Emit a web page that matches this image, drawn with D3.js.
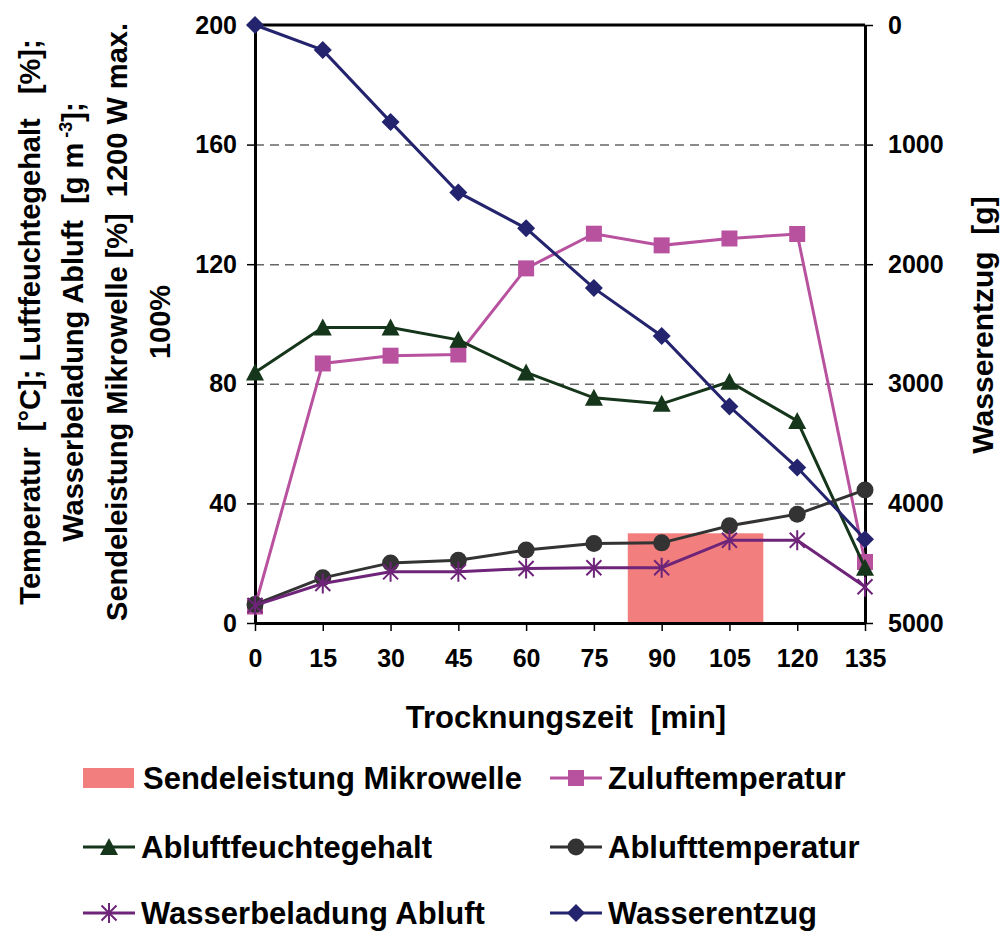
<!DOCTYPE html>
<html>
<head>
<meta charset="utf-8">
<script src="https://cdn.jsdelivr.net/npm/d3@7"></script>
<style>
  body { margin: 0; background: #fff; }
  svg text { font-family: "Liberation Sans", Arial, sans-serif; font-weight: bold; fill: #000; white-space: pre; }
</style>
</head>
<body>
<div id="chart"></div>
<script>
// values
var minutes = [0, 15, 30, 45, 60, 75, 90, 105, 120, 135];
var zuluft = [5.5, 86.8, 89.4, 89.8, 118.6, 130.2, 126.3, 128.6, 130.1, 20.4];
var abluftFeuchte = [83.8, 98.8, 98.8, 94.7, 83.8, 75.3, 73.3, 80.7, 67.6, 18.5];
var abluftTemp = [6.2, 15.1, 20.1, 21.0, 24.4, 26.6, 26.8, 32.5, 36.4, 44.5];
var wasserbeladung = [5.9, 13.2, 17.1, 17.1, 18.2, 18.5, 18.5, 27.7, 27.7, 12.1];
var wasserentzug = [0, 210, 810, 1400, 1700, 2200, 2600, 3190, 3700, 4300];
var mikrowelle = [{ start: 82.5, end: 112.5, value: 30 }];
var leftTicks = [0, 40, 80, 120, 160, 200];
var rightTicks = [0, 1000, 2000, 3000, 4000, 5000];
var gridTicks = [40, 80, 120, 160];

var margin = { top: 25, right: 135, bottom: 308, left: 255 },
    width = 1000 - margin.left - margin.right,
    height = 931 - margin.top - margin.bottom;

var svg = d3.select('#chart').append('svg')
    .attr('width', 1000)
    .attr('height', 931);
var g = svg.append('g')
    .attr('transform', 'translate(' + margin.left + ',' + margin.top + ')');

var x = d3.scaleLinear().domain([0, 135]).range([0, width]);
var yL = d3.scaleLinear().domain([0, 200]).range([height, 0]);
var yR = d3.scaleLinear().domain([0, 5000]).range([0, height]);

// marker paths, r = half size
function marker(type, r) {
    if (type == 'square') return 'M' + -r + ',' + -r + 'h' + 2 * r + 'v' + 2 * r + 'h' + -2 * r + 'Z';
    if (type == 'diamond') return 'M0,' + -r + 'L' + r + ',0L0,' + r + 'L' + -r + ',0Z';
    if (type == 'triangle') return 'M0,' + (-r - 1) + 'L' + (r + 1) + ',' + r + 'L' + (-r - 1) + ',' + r + 'Z';
    if (type == 'circle') return d3.symbol().type(d3.symbolCircle).size(Math.PI * r * r)();
    if (type == 'star') {
        var d = r * 0.75;
        return 'M0,' + -r + 'V' + r + 'M' + -d + ',' + -d + 'L' + d + ',' + d + 'M' + -d + ',' + d + 'L' + d + ',' + -d;
    }
}

var series = [
    { name: 'Zuluftemperatur', values: zuluft, axis: 'L', color: '#b8529f', mark: 'square', r: 8, lw: 3 },
    { name: 'Abluftfeuchtegehalt', values: abluftFeuchte, axis: 'L', color: '#15361a', mark: 'triangle', r: 8, lw: 3 },
    { name: 'Ablufttemperatur', values: abluftTemp, axis: 'L', color: '#333333', mark: 'circle', r: 8.5, lw: 3 },
    { name: 'Wasserbeladung Abluft', values: wasserbeladung, axis: 'L', color: '#6e2478', mark: 'star', r: 10, lw: 3 },
    { name: 'Wasserentzug', values: wasserentzug, axis: 'R', color: '#24246e', mark: 'diamond', r: 9, lw: 3 }
];

// dashed grid
g.append('g')
    .attr('class', 'grid')
    .call(d3.axisLeft(yL).tickValues(gridTicks).tickSize(-width).tickFormat(''))
    .call(function(s) { s.select('.domain').remove(); })
    .selectAll('line')
    .attr('stroke', '#666')
    .attr('stroke-width', 1.5)
    .attr('stroke-dasharray', '9,6');

// bar: microwave power
g.selectAll('.bar')
    .data(mikrowelle)
    .enter().append('rect')
    .attr('class', 'bar')
    .attr('x', function(d) { return x(d.start); })
    .attr('width', function(d) { return x(d.end) - x(d.start); })
    .attr('y', function(d) { return yL(d.value); })
    .attr('height', function(d) { return height - yL(d.value); })
    .attr('fill', '#f27f7d');

// plot frame (top line)
g.append('line')
    .attr('x1', 0).attr('x2', width)
    .attr('y1', 0).attr('y2', 0)
    .attr('stroke', '#000').attr('stroke-width', 3);

// axes
var xAxis = g.append('g')
    .attr('transform', 'translate(0,' + height + ')')
    .call(d3.axisBottom(x).tickValues(minutes).tickSize(8).tickSizeOuter(0).tickPadding(18));
var yAxisL = g.append('g')
    .call(d3.axisLeft(yL).tickValues(leftTicks).tickSize(8).tickSizeOuter(0).tickPadding(10));
var yAxisR = g.append('g')
    .attr('transform', 'translate(' + width + ',0)')
    .call(d3.axisRight(yR).tickValues(rightTicks).tickFormat(d3.format('d')).tickSize(8).tickSizeOuter(0).tickPadding(15));

[xAxis, yAxisL, yAxisR].forEach(function(a) {
    a.select('.domain').attr('stroke', '#000').attr('stroke-width', 3);
    a.selectAll('.tick line').attr('stroke', '#000').attr('stroke-width', 1.5);
    a.selectAll('.tick text')
        .style('font-size', '25px')
        .style('font-family', '"Liberation Sans", Arial, sans-serif')
        .style('font-weight', 'bold')
        .attr('fill', '#000');
});

// lines + markers
series.forEach(function(s) {
    var yy = s.axis == 'L' ? yL : yR;
    var line = d3.line()
        .x(function(d, i) { return x(minutes[i]); })
        .y(function(d) { return yy(d); });
    g.append('path')
        .datum(s.values)
        .attr('fill', 'none')
        .attr('stroke', s.color)
        .attr('stroke-width', s.lw)
        .attr('d', line);
    g.selectAll('.m-' + s.mark)
        .data(s.values)
        .enter().append('path')
        .attr('class', 'm-' + s.mark)
        .attr('transform', function(d, i) { return 'translate(' + x(minutes[i]) + ',' + yy(d) + ')'; })
        .attr('d', marker(s.mark, s.r))
        .attr('fill', s.mark == 'star' ? 'none' : s.color)
        .attr('stroke', s.color)
        .attr('stroke-width', s.mark == 'star' ? 2 : 0);
});

// axis titles
svg.append('text')
    .attr('x', 566)
    .attr('y', 728)
    .attr('text-anchor', 'middle')
    .style('font-size', '31px')
    .text('Trocknungszeit  [min]');

svg.append('text')
    .attr('transform', 'translate(993,325) rotate(-90)')
    .attr('text-anchor', 'middle')
    .style('font-size', '30px')
    .text('Wasserentzug  [g]');

var yTitle = svg.append('text')
    .attr('transform', 'translate(0,322) rotate(-90)')
    .attr('text-anchor', 'middle')
    .style('font-size', '29px');
var yLines = [
    ['Temperatur  [°C]; Luftfeuchtegehalt   [%];', 40],
    ['Wasserbeladung Abluft  [g m', 83],
    ['Sendeleistung Mikrowelle [%]  1200 W max.', 127],
    ['100%', 170]
];
yLines.forEach(function(l, i) {
    yTitle.append('tspan')
        .attr('x', 0)
        .attr('y', l[1])
        .text(l[0]);
    if (i == 1) {
        yTitle.append('tspan').attr('dy', -11).style('font-size', '18px').text(' -3');
        yTitle.append('tspan').attr('dy', 11).text('];');
    }
});

// legend
var legendItems = [
    { name: 'Sendeleistung Mikrowelle', type: 'bar', x: 83, y: 778 },
    { name: 'Zuluftemperatur', s: series[0], x: 550, y: 778 },
    { name: 'Abluftfeuchtegehalt', s: series[1], x: 83, y: 847 },
    { name: 'Ablufttemperatur', s: series[2], x: 550, y: 847 },
    { name: 'Wasserbeladung Abluft', s: series[3], x: 83, y: 913 },
    { name: 'Wasserentzug', s: series[4], x: 550, y: 913 }
];
var leg = svg.selectAll('.legend')
    .data(legendItems)
    .enter().append('g')
    .attr('class', 'legend')
    .attr('transform', function(d) { return 'translate(' + d.x + ',' + d.y + ')'; });
leg.each(function(d) {
    var el = d3.select(this);
    if (d.type == 'bar') {
        el.append('rect').attr('x', 0).attr('y', -10).attr('width', 51).attr('height', 20).attr('fill', '#f27f7d');
    } else {
        el.append('line').attr('x1', 0).attr('x2', 52).attr('y1', 0).attr('y2', 0)
            .attr('stroke', d.s.color).attr('stroke-width', d.s.lw);
        el.append('path')
            .attr('transform', 'translate(26,0)')
            .attr('d', marker(d.s.mark, d.s.r))
            .attr('fill', d.s.mark == 'star' ? 'none' : d.s.color)
            .attr('stroke', d.s.color)
            .attr('stroke-width', d.s.mark == 'star' ? 2 : 0);
    }
    el.append('text')
        .attr('x', d.type == 'bar' ? 60 : 58)
        .attr('dy', '0.36em')
        .style('font-size', '31px')
        .text(d.name);
});
</script>
</body>
</html>
